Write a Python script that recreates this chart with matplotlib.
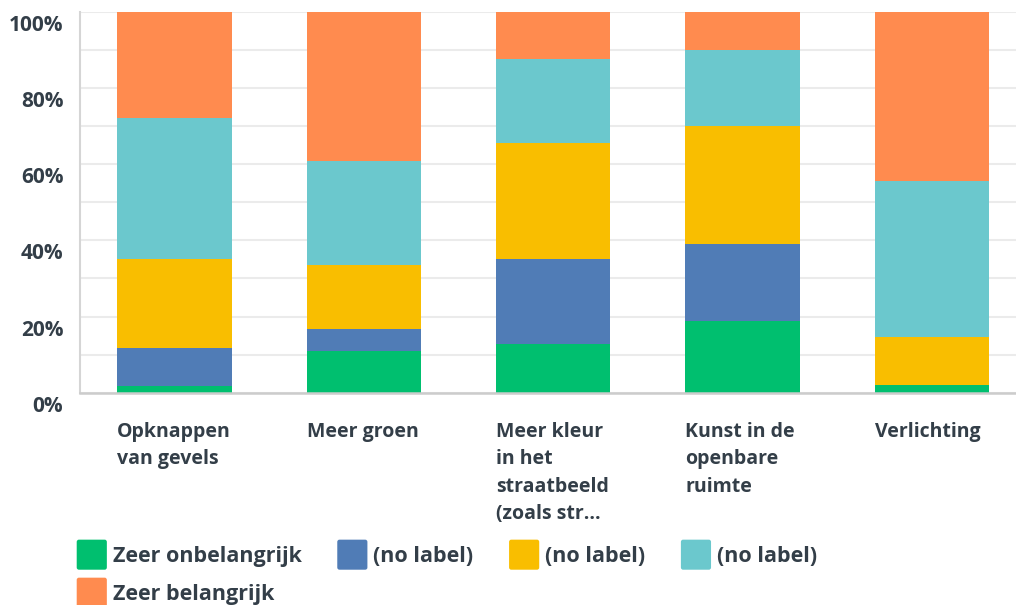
"""Stacked percentage bar chart (survey importance ratings)."""

import numpy as np
import matplotlib
matplotlib.use("Agg")
import matplotlib.pyplot as plt
from matplotlib.container import BarContainer
from matplotlib.legend_handler import HandlerPatch, update_from_first_child
from matplotlib.patches import FancyBboxPatch
from matplotlib.transforms import ScaledTranslation

# Data
categories = [
    "Opknappen\nvan gevels",
    "Meer groen",
    "Meer kleur\nin het\nstraatbeeld\n(zoals str...",
    "Kunst in de\nopenbare\nruimte",
    "Verlichting",
]
series_labels = ["Zeer onbelangrijk", "(no label)", "(no label)", "(no label)", "Zeer belangrijk"]
zeer_onbelangrijk = [1.8, 11.0, 12.9, 18.8, 2.0]
no_label_2 = [10.0, 5.8, 22.2, 20.3, 0.0]
no_label_3 = [23.3, 16.8, 30.5, 31.0, 12.6]
no_label_4 = [37.1, 27.3, 22.1, 20.0, 41.0]
zeer_belangrijk = [27.8, 39.1, 12.3, 9.9, 44.4]
y_ticks = [0, 20, 40, 60, 80, 100]

COLORS = ["#00BF6F", "#507CB6", "#F9BE00", "#6BC8CD", "#FF8B4F"]
TEXT = "#333E48"

plt.rcParams["font.family"] = ["Open Sans", "DejaVu Sans"]


def rounded_square(legend, orig_handle, xdescent, ydescent, width, height, fontsize):
    return FancyBboxPatch(
        (-xdescent, -ydescent), width, height,
        boxstyle="round,pad=0,rounding_size=1.6",
    )


fig = plt.figure(figsize=(10.16, 6.05), dpi=100)
ax = fig.add_axes([0.0787, 0.3509, 0.9213, 0.6293])

series = [zeer_onbelangrijk, no_label_2, no_label_3, no_label_4, zeer_belangrijk]
x = np.arange(len(categories))
width = 0.605
bottom = np.zeros(len(categories))
handles = []
for vals, color, label in zip(series, COLORS, series_labels):
    bars = ax.bar(x, vals, width, bottom=bottom, color=color, label=label, zorder=3)
    handles.append(bars)
    bottom += np.array(vals)

ax.set_xlim(-0.5, 4.445)
ax.set_ylim(0, 100)

# Gridlines every 10%
ax.set_yticks(np.arange(0, 101, 10), minor=True)
ax.grid(True, which="both", axis="y", color="#EBEBEB", linewidth=1.5, zorder=0)
ax.tick_params(axis="y", which="minor", length=0)

ax.set_yticks(y_ticks, [f"{t}%" for t in y_ticks])
ax.tick_params(axis="y", length=0, pad=12, labelsize=15, labelcolor=TEXT)
for lbl in ax.get_yticklabels():
    lbl.set_fontweight("bold")
    lbl.set_transform(lbl.get_transform() + ScaledTranslation(0, -0.11, fig.dpi_scale_trans))

ax.set_xticks(x - width / 2, categories, ha="left", va="top")
ax.tick_params(axis="x", length=0, pad=21, labelsize=14, labelcolor=TEXT)
for lbl in ax.get_xticklabels():
    lbl.set_fontweight("bold")
    lbl.set_linespacing(1.5)

for side in ["top", "right"]:
    ax.spines[side].set_visible(False)
ax.spines["left"].set_color("#D5D5D5")
ax.spines["left"].set_linewidth(1.5)
ax.spines["bottom"].set_color("#CCCCCC")
ax.spines["bottom"].set_linewidth(1.8)
ax.spines["left"].set_zorder(4)
ax.spines["bottom"].set_zorder(4)

# Legend: reorder so the two-row layout reads left-to-right
order = [0, 4, 1, 2, 3]
leg = fig.legend(
    [handles[i] for i in order],
    [series_labels[i] for i in order],
    ncol=4,
    loc="upper left",
    bbox_to_anchor=(0.0755, 0.108),
    frameon=False,
    fontsize=15.5,
    handlelength=1.4,
    handleheight=1.77,
    handletextpad=0.28,
    columnspacing=1.65,
    labelspacing=0.37,
    borderaxespad=0,
    borderpad=0,
    handler_map={BarContainer: HandlerPatch(patch_func=rounded_square,
                                            update_func=update_from_first_child)},
)
for t in leg.get_texts():
    t.set_color(TEXT)
    t.set_fontweight("bold")

fig.savefig("out.png", dpi=100)
